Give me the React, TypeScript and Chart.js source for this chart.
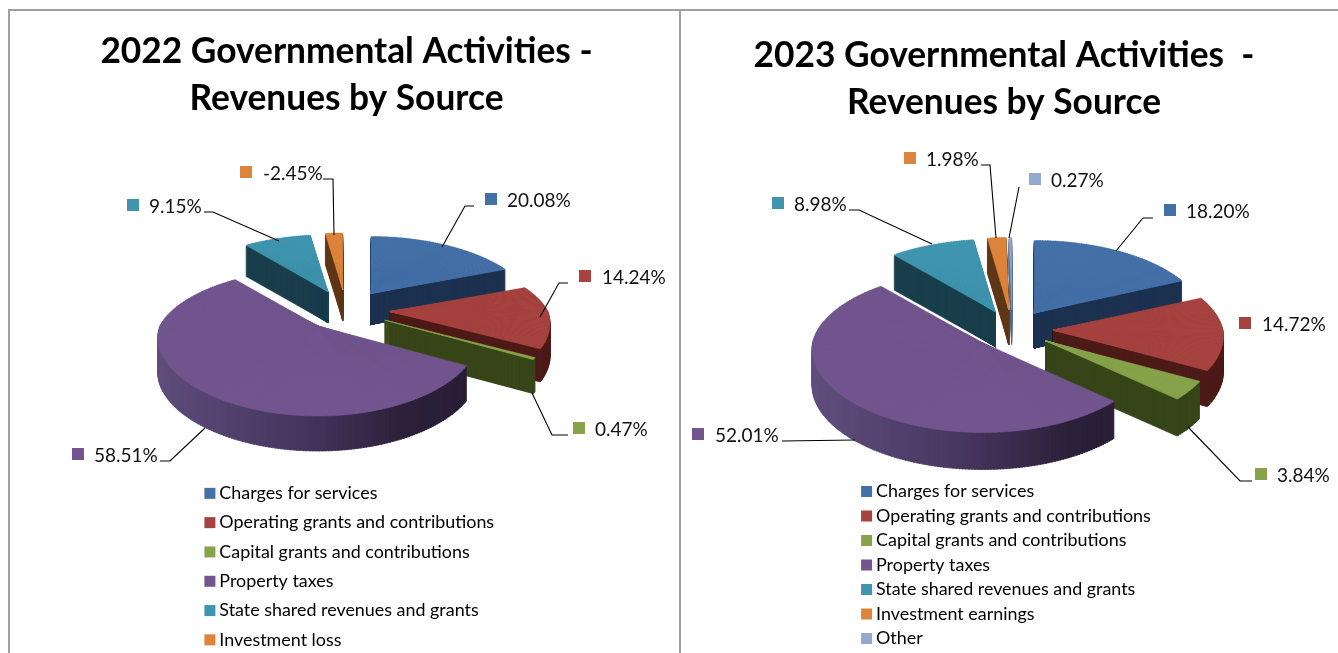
import React, { useEffect, useRef } from "react";
import { Chart, registerables } from "chart.js";

Chart.register(...registerables);

const FONT = "Lato";

// ---------- data ----------
const titleA = ["2022 Governmental Activities -", "Revenues by Source"];
const titleB = ["2023 Governmental Activities  -", "Revenues by Source"];
const categoriesA = [
  "Charges for services",
  "Operating grants and contributions",
  "Capital grants and contributions",
  "Property taxes",
  "State shared revenues and grants",
  "Investment loss",
];
const categoriesB = [
  "Charges for services",
  "Operating grants and contributions",
  "Capital grants and contributions",
  "Property taxes",
  "State shared revenues and grants",
  "Investment earnings",
  "Other",
];
const percentA = [20.08, 14.24, 0.47, 58.51, 9.15, -2.45];
const percentB = [18.2, 14.72, 3.84, 52.01, 8.98, 1.98, 0.27];

// ---------- styles ----------
const topColors = ["#4470A8", "#A64340", "#87A34A", "#72558E", "#3F95AF", "#DD843C", "#93A9CF"];
const sideColors = ["#1D3150", "#4D1B18", "#374619", "", "#1A3F4C", "#5F3817", "#56688A"];

// callout layout: square left, square top, text left, leader polyline (page px)
type Callout = { bx: number; by: number; tx: number; line: number[][] };
const calloutsA: Callout[] = [
  { bx: 485, by: 193, tx: 507, line: [[474, 206], [465, 206], [442, 247]] },
  { bx: 579, by: 270, tx: 602, line: [[568, 283], [559, 283], [540, 317]] },
  { bx: 573, by: 422, tx: 595, line: [[568, 435], [552, 435], [532, 393]] },
  { bx: 72, by: 448, tx: 94, line: [[160, 461], [170, 461], [205, 428]] },
  { bx: 127, by: 199, tx: 149, line: [[204, 212], [213, 212], [279, 241]] },
  { bx: 240, by: 166, tx: 263, line: [[323, 179], [333, 179], [334, 235]] },
];
const calloutsB: Callout[] = [
  { bx: 1164, by: 204, tx: 1186, line: [[1153, 218], [1143, 218], [1116, 251]] },
  { bx: 1239, by: 317, tx: 1262, line: [] },
  { bx: 1255, by: 468, tx: 1277, line: [[1252, 481], [1240, 481], [1188, 427]] },
  { bx: 692, by: 428, tx: 715, line: [[782, 441], [855, 440]] },
  { bx: 772, by: 197, tx: 794, line: [[849, 210], [859, 210], [932, 244]] },
  { bx: 904, by: 152, tx: 926, line: [[981, 165], [990, 165], [996, 238]] },
  { bx: 1029, by: 173, tx: 1051, line: [[1019, 187], [1009, 238]] },
];

// 3-D projection of the pie (page px); r*/ry* slopes differ behind (B) and in front (F) of the centre line
type Proj = {
  cx: number; cy: number; ex: number; ey: number;
  r0: number; rB: number; rF: number; ry0: number; ryB: number; ryF: number; d0: number; d1: number;
};
const projA: Proj = { cx: 346, cy: 310.3, ex: 44, ey: 20.4, r0: 158, rB: 38, rF: 26, ry0: 72, ryB: 15, ryF: 18, d0: 33, d1: 2 };
const projB: Proj = { cx: 1012, cy: 329.4, ex: 41, ey: 19.5, r0: 170, rB: 18, rF: 12, ry0: 81, ryB: 8.5, ryF: 8.5, d0: 36, d1: 1 };

type PieCfg = {
  title: string[]; cats: string[]; pct: number[]; callouts: Callout[]; proj: Proj;
  originX: number; width: number; titleTop: number; legendTop: number; legendLeft: number; legendGap: number;
};

const LEGEND_SIZE = 17.9;
const LABEL_SIZE = 19;
const TITLE_SIZE = 35.3;
const STEP = Math.PI / 180;

// side shading of the big slice, dark toward the right of the rim
function purpleSide(t: number) {
  const stops: [number, number[]][] = [
    [0, [0x62, 0x50, 0x7f]],
    [0.5, [0x46, 0x36, 0x5f]],
    [0.8, [0x2c, 0x21, 0x39]],
    [1, [0x2a, 0x1f, 0x38]],
  ];
  const u = Math.min(1, Math.max(0, t));
  for (let i = 1; i < stops.length; i++) {
    if (u <= stops[i][0]) {
      const k = (u - stops[i - 1][0]) / (stops[i][0] - stops[i - 1][0]);
      const c = stops[i - 1][1].map((v, j) => Math.round(v + (stops[i][1][j] - v) * k));
      return `rgb(${c[0]},${c[1]},${c[2]})`;
    }
  }
  return "#2A1F38";
}

function build(canvas: HTMLCanvasElement, cfg: PieCfg) {
  const { proj: p, originX } = cfg;
  const pie3d = {
    id: "pie3d",
    afterLayout(chart: any) {
      const l = chart.legend;
      l.left = cfg.legendLeft - originX;
      l.right = l.left + 330;
      l.top = cfg.legendTop;
      l.bottom = 900;
    },
    beforeDatasetsDraw(chart: any) {
      const ctx: CanvasRenderingContext2D = chart.ctx;
      const arcs: any[] = chart.getDatasetMeta(0).data;
      const items = arcs.map((el, i) => {
        const mid = el.startAngle + el.circumference / 2 + Math.PI / 2; // clockwise from top
        return { el, i, mid, f: -Math.cos(mid) };
      });
      items.sort((a, b) => a.f - b.f);
      for (const { el, i, mid, f } of items) {
        const tipX = p.cx + p.ex * Math.sin(mid) - originX;
        const tipY = p.cy - p.ey * Math.cos(mid);
        const depth = Math.round(p.d0 + p.d1 * f);
        const r = el.outerRadius;
        const orig = el.options;
        const s0 = el.startAngle;
        const e0 = el.endAngle;
        const c0 = el.circumference;
        const n = Math.max(1, Math.ceil(c0 / STEP));
        const rimX = (a: number) => Math.sin(a + Math.PI / 2);
        for (let layer = depth; layer >= 0; layer -= 1) {
          const isTop = layer === 0;
          for (let k = 0; k < n; k++) {
            const a0 = s0 + (c0 * k) / n;
            const a1 = Math.min(e0, s0 + (c0 * (k + 1)) / n + 0.006);
            const am = (a0 + a1) / 2;
            const fa = -Math.cos(am + Math.PI / 2);
            const rx = p.r0 + (fa < 0 ? p.rB : p.rF) * fa;
            const ry = p.ry0 + (fa < 0 ? p.ryB : p.ryF) * fa;
            const fill = isTop
              ? topColors[i]
              : i === 3
                ? purpleSide((rimX(am) + 1) / 1.85)
                : sideColors[i];
            ctx.save();
            ctx.translate(tipX, tipY + layer);
            ctx.scale(rx / r, ry / r);
            ctx.translate(-el.x, -el.y);
            el.startAngle = a0;
            el.endAngle = a1;
            el.circumference = a1 - a0;
            el.options = {
              ...orig,
              backgroundColor: fill,
              borderColor: fill,
              borderWidth: isTop ? 0.7 : 1,
            };
            el.draw(ctx);
            ctx.restore();
          }
        }
        el.startAngle = s0;
        el.endAngle = e0;
        el.circumference = c0;
        el.options = orig;
      }
      return false;
    },
    afterDraw(chart: any) {
      const ctx: CanvasRenderingContext2D = chart.ctx;
      ctx.save();
      ctx.font = `${LABEL_SIZE}px ${FONT}`;
      ctx.textBaseline = "middle";
      ctx.textAlign = "left";
      cfg.callouts.forEach((c, i) => {
        if (c.line.length) {
          ctx.beginPath();
          c.line.forEach(([x, y], j) => (j ? ctx.lineTo(x - originX, y) : ctx.moveTo(x - originX, y)));
          ctx.strokeStyle = "#000000";
          ctx.lineWidth = 1.1;
          ctx.stroke();
        }
        ctx.fillStyle = topColors[i];
        ctx.fillRect(c.bx - originX, c.by, 12, 12);
        ctx.fillStyle = "#111111";
        ctx.fillText(`${cfg.pct[i].toFixed(2)}%`, c.tx - originX, c.by + 7.5);
      });
      ctx.restore();
    },
  };

  return new Chart(canvas, {
    type: "pie",
    plugins: [pie3d],
    data: {
      labels: cfg.cats,
      datasets: [
        {
          data: cfg.pct.map((v) => Math.abs(v)),
          backgroundColor: topColors.slice(0, cfg.pct.length),
          borderWidth: 0,
        },
      ],
    },
    options: {
      responsive: false,
      animation: false,
      events: [],
      plugins: {
        tooltip: { enabled: false },
        title: {
          display: true,
          text: cfg.title,
          color: "#000000",
          font: { family: FONT, weight: "bold", size: TITLE_SIZE, lineHeight: 47 / TITLE_SIZE },
          padding: { top: cfg.titleTop, bottom: 0 },
        },
        legend: {
          display: true,
          position: "right",
          align: "start",
          labels: {
            boxWidth: 1,
            boxHeight: 1,
            padding: cfg.legendGap,
            color: "#111111",
            font: { family: FONT, size: LEGEND_SIZE },
            generateLabels: () =>
              cfg.cats.map((text, i) => ({
                text,
                fillStyle: topColors[i],
                strokeStyle: topColors[i],
                lineWidth: 10,
                hidden: false,
                index: i,
              })),
          },
        },
      },
    } as any,
  });
}

const configA: PieCfg = {
  title: titleA, cats: categoriesA, pct: percentA, callouts: calloutsA, proj: projA,
  originX: 0, width: 693, titleTop: 28, legendTop: 473, legendLeft: 198, legendGap: 29.3 - LEGEND_SIZE,
};
const configB: PieCfg = {
  title: titleB, cats: categoriesB, pct: percentB, callouts: calloutsB, proj: projB,
  originX: 670, width: 668, titleTop: 32, legendTop: 476, legendLeft: 859.5, legendGap: 24.5 - LEGEND_SIZE,
};

export default function App() {
  const a = useRef<HTMLCanvasElement>(null);
  const b = useRef<HTMLCanvasElement>(null);
  useEffect(() => {
    const c1 = build(a.current!, configA);
    const c2 = build(b.current!, configB);
    return () => {
      c1.destroy();
      c2.destroy();
    };
  }, []);
  const line = "#A0A0A0";
  return (
    <div style={{ position: "fixed", inset: 0, background: "#fff", overflow: "hidden" }}>
      <div style={{ position: "absolute", left: 8, top: 9, width: 1330, height: 2, background: line }} />
      <div style={{ position: "absolute", left: 8, top: 9, width: 2, height: 644, background: line }} />
      <div style={{ position: "absolute", left: 679, top: 9, width: 2, height: 644, background: line }} />
      <canvas ref={a} width={configA.width} height={653} style={{ position: "absolute", left: configA.originX, top: 0 }} />
      <canvas ref={b} width={configB.width} height={653} style={{ position: "absolute", left: configB.originX, top: 0 }} />
    </div>
  );
}
